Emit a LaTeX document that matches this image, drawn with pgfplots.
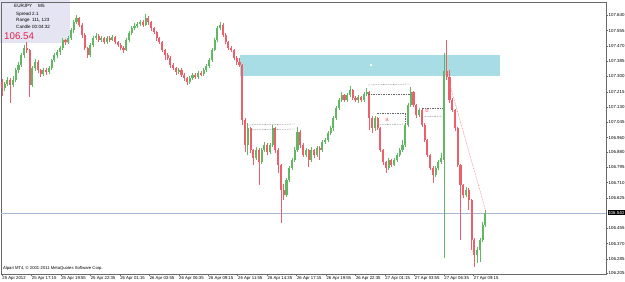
\documentclass[border=0pt]{standalone}
\usepackage{fontspec}
\setmainfont{Liberation Sans}
\usepackage{pgfplots}
\usepackage{pgfplotstable}
\pgfplotsset{compat=1.18}
\definecolor{upc}{RGB}{98,184,98}
\definecolor{dnc}{RGB}{236,96,108}
\definecolor{zone}{RGB}{168,221,229}
\definecolor{infobg}{RGB}{228,228,243}
\definecolor{pricered}{RGB}{228,32,74}
\definecolor{hlinec}{RGB}{168,184,214}
\definecolor{framec}{RGB}{105,105,105}
\pgfplotstableread{
x o h l c
0 107.270 107.285 107.190 107.236
3 107.236 107.270 107.222 107.258
6 107.258 107.295 107.245 107.280
9 107.280 107.290 107.152 107.252
12 107.252 107.300 107.240 107.280
15 107.280 107.350 107.270 107.336
18 107.336 107.380 107.320 107.364
21 107.364 107.430 107.350 107.419
24 107.419 107.475 107.405 107.458
27 107.458 107.491 107.430 107.447
30 107.447 107.455 107.186 107.252
33 107.252 107.360 107.240 107.347
36 107.347 107.395 107.330 107.380
39 107.380 107.390 107.320 107.336
42 107.336 107.345 107.300 107.314
45 107.314 107.350 107.305 107.336
48 107.336 107.345 107.310 107.325
51 107.325 107.360 107.315 107.347
54 107.347 107.400 107.335 107.391
57 107.391 107.430 107.380 107.419
60 107.419 107.450 107.405 107.436
63 107.436 107.470 107.420 107.458
66 107.458 107.515 107.445 107.503
69 107.503 107.512 107.475 107.491
72 107.491 107.525 107.480 107.514
75 107.514 107.570 107.505 107.558
78 107.558 107.615 107.545 107.603
81 107.603 107.642 107.590 107.625
84 107.625 107.632 107.575 107.586
87 107.586 107.595 107.515 107.530
90 107.530 107.540 107.445 107.458
93 107.458 107.465 107.403 107.419
96 107.419 107.488 107.410 107.475
99 107.475 107.528 107.465 107.514
102 107.514 107.540 107.500 107.525
105 107.525 107.535 107.490 107.503
108 107.503 107.528 107.495 107.514
111 107.514 107.522 107.478 107.491
114 107.491 107.528 107.482 107.514
117 107.514 107.525 107.490 107.503
120 107.503 107.532 107.495 107.519
123 107.519 107.525 107.480 107.491
126 107.491 107.500 107.462 107.475
129 107.475 107.485 107.445 107.458
132 107.458 107.470 107.430 107.447
135 107.447 107.515 107.440 107.503
138 107.503 107.555 107.495 107.542
141 107.542 107.580 107.530 107.569
144 107.569 107.595 107.560 107.580
147 107.580 107.605 107.570 107.592
150 107.592 107.615 107.582 107.603
153 107.603 107.612 107.575 107.586
156 107.586 107.648 107.578 107.625
159 107.625 107.635 107.590 107.603
162 107.603 107.612 107.555 107.569
165 107.569 107.578 107.535 107.547
168 107.547 107.555 107.500 107.514
171 107.514 107.522 107.478 107.491
174 107.491 107.500 107.435 107.447
177 107.447 107.455 107.391 107.419
180 107.419 107.430 107.390 107.403
183 107.403 107.412 107.350 107.364
186 107.364 107.375 107.335 107.347
189 107.347 107.355 107.310 107.325
192 107.325 107.348 107.315 107.336
195 107.336 107.345 107.295 107.308
198 107.308 107.318 107.278 107.291
201 107.291 107.300 107.252 107.269
204 107.269 107.302 107.260 107.291
207 107.291 107.320 107.282 107.308
210 107.308 107.318 107.285 107.297
213 107.297 107.330 107.288 107.319
216 107.319 107.328 107.300 107.314
219 107.314 107.348 107.305 107.336
222 107.336 107.370 107.325 107.358
225 107.358 107.402 107.350 107.391
228 107.391 107.458 107.382 107.447
231 107.447 107.515 107.440 107.503
234 107.503 107.580 107.495 107.569
237 107.569 107.603 107.560 107.586
240 107.586 107.595 107.518 107.530
243 107.530 107.540 107.478 107.491
246 107.491 107.500 107.445 107.458
249 107.458 107.470 107.435 107.447
252 107.447 107.455 107.390 107.403
255 107.403 107.412 107.365 107.380
258 107.380 107.403 107.352 107.364
261 107.364 107.372 107.030 107.058
264 107.058 107.070 106.880 106.919
267 106.919 107.041 106.863 107.013
270 107.013 107.020 106.875 106.891
273 106.891 106.900 106.808 106.847
276 106.847 106.905 106.835 106.891
279 106.891 106.900 106.696 106.824
282 106.824 106.905 106.815 106.891
285 106.891 106.935 106.880 106.919
288 106.919 106.930 106.865 106.880
291 106.880 106.932 106.870 106.919
294 106.919 107.030 106.910 107.013
297 107.013 107.020 106.875 106.891
300 106.891 106.900 106.763 106.808
303 106.808 106.815 106.485 106.669
306 106.669 106.700 106.613 106.641
309 106.641 106.735 106.630 106.724
312 106.724 106.805 106.712 106.791
315 106.791 106.848 106.780 106.835
318 106.835 106.905 106.825 106.891
321 106.891 107.019 106.880 106.991
324 106.991 107.000 106.905 106.919
327 106.919 106.930 106.850 106.863
330 106.863 106.905 106.850 106.891
333 106.891 106.900 106.796 106.835
336 106.835 106.905 106.825 106.891
339 106.891 106.900 106.850 106.863
342 106.863 106.915 106.852 106.902
345 106.902 106.912 106.835 106.891
348 106.891 106.948 106.880 106.935
351 106.935 106.960 106.925 106.947
354 106.947 106.998 106.935 106.986
357 106.986 107.025 106.975 107.013
360 107.013 107.080 107.000 107.069
363 107.069 107.135 107.058 107.125
366 107.125 107.180 107.115 107.169
369 107.169 107.215 107.160 107.197
372 107.197 107.205 107.158 107.169
375 107.169 107.210 107.160 107.197
378 107.197 107.247 107.188 107.225
381 107.225 107.232 107.170 107.180
384 107.180 107.190 107.158 107.169
387 107.169 107.198 107.152 107.186
390 107.186 107.195 107.160 107.169
393 107.169 107.215 107.160 107.202
396 107.202 107.236 107.195 107.213
399 107.213 107.220 107.002 107.069
402 107.069 107.080 106.986 107.013
405 107.013 107.082 107.000 107.069
408 107.069 107.075 107.000 107.013
411 107.013 107.020 106.878 106.891
414 106.891 106.900 106.810 106.824
417 106.824 106.832 106.763 106.791
420 106.791 106.848 106.780 106.835
423 106.835 106.842 106.795 106.808
426 106.808 106.848 106.800 106.835
429 106.835 106.875 106.825 106.863
432 106.863 106.902 106.852 106.891
435 106.891 106.947 106.880 106.919
438 106.919 107.042 106.910 107.030
441 107.030 107.152 107.020 107.141
444 107.141 107.241 107.130 107.213
447 107.213 107.222 107.130 107.141
450 107.141 107.150 107.072 107.086
453 107.086 107.125 107.075 107.113
456 107.113 107.120 107.018 107.030
459 107.030 107.040 106.935 106.947
462 106.947 106.955 106.850 106.863
465 106.863 106.870 106.778 106.791
468 106.791 106.800 106.708 106.752
471 106.752 106.805 106.740 106.791
474 106.791 106.835 106.780 106.824
477 106.824 106.874 106.812 106.847
480 106.835 107.430 106.290 107.330
483 107.330 107.503 107.280 107.300
486 107.300 107.336 107.155 107.169
489 107.169 107.180 107.100 107.113
492 107.113 107.122 107.000 107.013
495 107.013 107.020 106.795 106.808
498 106.808 106.815 106.391 106.696
501 106.696 106.705 106.625 106.641
504 106.641 106.685 106.630 106.669
507 106.669 106.680 106.557 106.613
510 106.613 106.620 106.335 106.391
513 106.391 106.400 106.240 106.307
516 106.307 106.350 106.260 106.335
519 106.335 106.405 106.268 106.391
522 106.391 106.490 106.380 106.474
525 106.474 106.555 106.465 106.540
}\candles
\pgfplotsset{candle/.style n args={2}{draw=none, fill=none, mark=none, forget plot,
  error bars/.cd, y dir=both, y explicit, error mark=none,
  error bar style={draw=#1, line width=#2, solid}, /pgfplots/.cd}}
\begin{document}
\begin{tikzpicture}
\path[use as bounding box] (0,0) rectangle (625bp,-282bp);
\fill[infobg] (0,0) rectangle (70bp,-43bp);
\fill[zone] (240bp,-55bp) rectangle (500bp,-76bp);
\begin{axis}[
  at={(1bp,-274bp)}, anchor=south west, scale only axis,
  width=605bp, height=272bp,
  xmin=-1, xmax=656, ymin=106.201, ymax=107.714,
  axis line style={framec, line width=0.6pt},
  tick style={framec, line width=0.4pt},
  major tick length=2bp, tick align=outside,
  xtick pos=left, ytick pos=right, yticklabel pos=right,
  xtick={0,32,64,...,512},
  xticklabels={25 Apr 2012, 25 Apr 17:15, 25 Apr 19:55, 25 Apr 22:35, 26 Apr 01:15, 26 Apr 03:55, 26 Apr 06:35, 26 Apr 09:15, 26 Apr 11:55, 26 Apr 14:35, 26 Apr 17:15, 26 Apr 19:55, 26 Apr 22:35, 27 Apr 01:15, 27 Apr 03:55, 27 Apr 06:35, 27 Apr 09:15},
  xticklabel style={font=\fontsize{4.3}{5}\selectfont, anchor=north west, inner sep=0pt, xshift=0.3bp, yshift=-0.6bp},
  ytick={107.640,107.555,107.470,107.385,107.300,107.215,107.130,107.045,106.960,106.880,106.795,106.710,106.625,106.455,106.370,106.285,106.205},
  yticklabels={107.640,107.555,107.470,107.385,107.300,107.215,107.130,107.045,106.960,106.880,106.795,106.710,106.625,106.455,106.370,106.285,106.205},
  yticklabel style={font=\fontsize{4.4}{5}\selectfont, anchor=west, inner sep=0pt, xshift=0.5bp},
]
\draw[hlinec, line width=0.6pt] (axis cs:-1,106.54) -- (axis cs:656,106.54);
% wicks
\addplot[restrict expr to domain={\thisrow{c}-\thisrow{o}}{0:5}, candle={upc}{0.6pt}]
  table[x=x, y expr={(\thisrow{h}+\thisrow{l})/2}, y error expr={(\thisrow{h}-\thisrow{l})/2}] {\candles};
\addplot[restrict expr to domain={\thisrow{c}-\thisrow{o}}{-5:0}, candle={dnc}{0.6pt}]
  table[x=x, y expr={(\thisrow{h}+\thisrow{l})/2}, y error expr={(\thisrow{h}-\thisrow{l})/2}] {\candles};
% bodies
\addplot[restrict expr to domain={\thisrow{c}-\thisrow{o}}{0:5}, candle={upc}{2.1pt}]
  table[x=x, y expr={(\thisrow{o}+\thisrow{c})/2}, y error expr={abs(\thisrow{c}-\thisrow{o})/2}] {\candles};
\addplot[restrict expr to domain={\thisrow{c}-\thisrow{o}}{-5:0}, candle={dnc}{2.1pt}]
  table[x=x, y expr={(\thisrow{o}+\thisrow{c})/2}, y error expr={abs(\thisrow{c}-\thisrow{o})/2}] {\candles};
\end{axis}
% annotations
\begin{scope}[black!60, line width=0.3bp, dash pattern=on 1.5bp off 1bp]
\draw (247bp,-125bp) -- (295bp,-124bp);
\draw (247bp,-130bp) -- (295bp,-129bp);
\draw (368bp,-85bp) -- (410bp,-84bp);
\draw (368bp,-94bp) -- (410bp,-94bp);
\draw (377bp,-113bp) -- (405bp,-113bp);
\draw (377bp,-125bp) -- (405bp,-124bp);
\draw (405bp,-113bp) -- (405bp,-124bp);
\draw (422bp,-108bp) -- (443bp,-108bp);
\draw (422bp,-117bp) -- (443bp,-116bp);
\end{scope}
\node[text=dnc, font=\fontsize{6}{6}\selectfont, inner sep=0pt] at (387bp,-120bp) {a};
\node[text=dnc, font=\fontsize{6}{6}\selectfont, inner sep=0pt] at (427bp,-110bp) {b};
\draw[dnc!80, line width=0.5bp, dash pattern=on 0.8bp off 0.8bp] (450bp,-85bp) -- (486bp,-212bp);
\fill[white] (370.3bp,-64.3bp) rectangle (371.7bp,-65.7bp);
% price label
\node[fill=black, text=white, font=\fontsize{4.4}{5}\selectfont, inner sep=0.6bp, anchor=west] at (607.5bp,-212.5bp) {106.540};
% info box
\begin{scope}[font=\fontsize{4.6}{5}\selectfont]
\node[anchor=west, inner sep=0pt] at (14bp,-6bp) {EURJPY};
\node[anchor=west, inner sep=0pt] at (38bp,-6bp) {M5};
\node[anchor=west, inner sep=0pt] at (16bp,-14bp) {Spread};
\node[anchor=west, inner sep=0pt] at (32bp,-14bp) {2.1};
\node[anchor=west, inner sep=0pt] at (16bp,-20.5bp) {Range};
\node[anchor=west, inner sep=0pt] at (32bp,-20.5bp) {111, 123};
\node[anchor=west, inner sep=0pt] at (16bp,-27bp) {Candle};
\node[anchor=west, inner sep=0pt] at (32bp,-27bp) {00:04:32};
\end{scope}
\node[anchor=west, inner sep=0pt, text=pricered, font=\fontsize{9.8}{10}\selectfont] at (4bp,-36.5bp) {106.54};
\node[anchor=west, inner sep=0pt, font=\fontsize{4.2}{5}\selectfont] at (3bp,-268bp) {Alpari MT4, © 2001-2011 MetaQuotes Software Corp.};
\end{tikzpicture}
\end{document}
